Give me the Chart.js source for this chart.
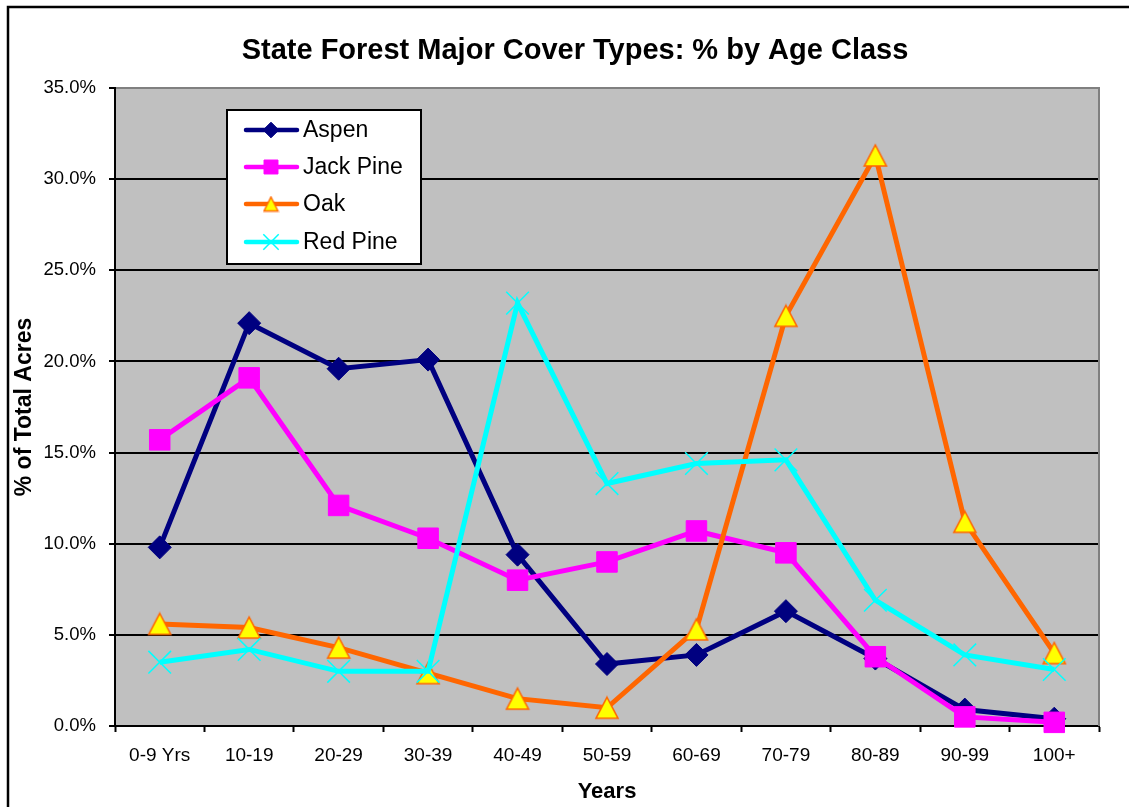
<!DOCTYPE html>
<html>
<head>
<meta charset="utf-8">
<title>State Forest Major Cover Types</title>
<script src="https://cdn.jsdelivr.net/npm/chart.js@4/dist/chart.umd.min.js"></script>
<style>
  html, body { margin: 0; padding: 0; background: #ffffff; }
  #wrap { position: relative; width: 1129px; height: 807px; }
</style>
</head>
<body>
<div id="wrap"><canvas id="chart" width="1129" height="807"></canvas></div>
<script>
// Age classes along the x axis
const ageClasses = ['0-9 Yrs', '10-19', '20-29', '30-39', '40-49', '50-59', '60-69', '70-79', '80-89', '90-99', '100+'];

// Percent of total acres in each age class, per cover type
const aspen    = [9.8, 22.1, 19.6, 20.1, 9.4, 3.4, 3.9, 6.3, 3.7, 0.9, 0.4];
const jackPine = [15.7, 19.1, 12.1, 10.3, 8.0, 9.0, 10.7, 9.5, 3.8, 0.5, 0.2];
const oak      = [5.6, 5.4, 4.3, 2.9, 1.5, 1.0, 5.3, 22.5, 31.3, 11.2, 4.0];
const redPine  = [3.5, 4.2, 3.0, 3.0, 23.2, 13.3, 14.4, 14.6, 6.9, 3.9, 3.1];

// Value axis range
const yMin = 0;
const yMax = 35;
const yStep = 5;

const FONT = "'Liberation Sans', Arial, Helvetica, sans-serif";

// Yellow triangle marker centred on its bounding box
function triangleMarker(w, h, fill, edge, edgeWidth) {
  const pad = edgeWidth;
  const c = document.createElement('canvas');
  c.width = Math.ceil(w + pad * 2);
  c.height = Math.ceil(h + pad * 2);
  const g = c.getContext('2d');
  const cx = c.width / 2, cy = c.height / 2;
  g.beginPath();
  g.moveTo(cx, cy - h / 2);
  g.lineTo(cx + w / 2, cy + h / 2);
  g.lineTo(cx - w / 2, cy + h / 2);
  g.closePath();
  g.fillStyle = fill;
  g.fill();
  g.lineJoin = 'miter';
  g.lineWidth = edgeWidth;
  g.strokeStyle = edge;
  g.stroke();
  return c;
}

const oakMarker = triangleMarker(22, 21, '#ffff00', '#ff6600', 1.6);
const oakLegendMarker = triangleMarker(14, 14, '#ffff00', '#ff6600', 1.4);

function series(label, data, line, fill, edge, style, radius, edgeWidth, order, legendStyle) {
  return {
    label, data, order,
    borderColor: line,
    borderWidth: 5,
    tension: 0,
    fill: false,
    clip: false,
    pointStyle: style,
    pointRadius: radius,
    pointHoverRadius: radius,
    pointBackgroundColor: fill,
    pointBorderColor: edge,
    pointBorderWidth: edgeWidth,
    legendStyle: legendStyle || style
  };
}

// Frame, plot background, title and the boxed legend
const decor = {
  id: 'decor',
  beforeDraw(chart) {
    const { ctx, chartArea: a } = chart;
    ctx.save();
    ctx.fillStyle = '#ffffff';
    ctx.fillRect(0, 0, chart.width, chart.height);
    ctx.strokeStyle = '#000000';
    ctx.lineWidth = 2.5;
    ctx.beginPath();
    ctx.moveTo(8, chart.height + 5);
    ctx.lineTo(8, 7);
    ctx.lineTo(chart.width + 5, 7);
    ctx.stroke();
    ctx.fillStyle = '#c0c0c0';
    ctx.fillRect(a.left, a.top, a.right - a.left, a.bottom - a.top);
    ctx.restore();
  },
  beforeDatasetsDraw(chart) {
    const { ctx, chartArea: a } = chart;
    ctx.save();
    ctx.strokeStyle = '#808080';
    ctx.lineWidth = 2;
    ctx.beginPath();
    ctx.moveTo(a.left + 1, a.top);
    ctx.lineTo(a.right, a.top);
    ctx.lineTo(a.right, a.bottom);
    ctx.stroke();
    ctx.restore();
  },
  afterDraw(chart) {
    const { ctx } = chart;
    ctx.save();
    // Chart title
    ctx.fillStyle = '#000000';
    ctx.font = 'bold 29px ' + FONT;
    ctx.textAlign = 'center';
    ctx.textBaseline = 'middle';
    ctx.fillText('State Forest Major Cover Types: % by Age Class', 575, 51);

    // Legend box
    const box = { x: 227, y: 110, w: 194, h: 154 };
    ctx.fillStyle = '#ffffff';
    ctx.fillRect(box.x, box.y, box.w, box.h);
    ctx.strokeStyle = '#000000';
    ctx.lineWidth = 2;
    ctx.strokeRect(box.x, box.y, box.w, box.h);

    const rows = [130, 167, 204, 242];
    chart.data.datasets.forEach((ds, i) => {
      const y = rows[i];
      ctx.strokeStyle = ds.borderColor;
      ctx.lineWidth = 4.5;
      ctx.lineCap = 'round';
      ctx.beginPath();
      ctx.moveTo(246, y);
      ctx.lineTo(297, y);
      ctx.stroke();
      ctx.lineCap = 'butt';
      ctx.fillStyle = ds.pointBackgroundColor;
      ctx.strokeStyle = ds.pointBorderColor;
      ctx.lineWidth = ds.pointBorderWidth;
      Chart.helpers.drawPoint(ctx, {
        pointStyle: ds.legendStyle,
        radius: ds.pointRadius * 0.68,
        rotation: 0,
        borderWidth: ds.pointBorderWidth
      }, 271, y);
      ctx.fillStyle = '#000000';
      ctx.font = '23px ' + FONT;
      ctx.textAlign = 'left';
      ctx.textBaseline = 'middle';
      ctx.fillText(ds.label, 303, y + 1);
    });
    ctx.restore();
  }
};

new Chart(document.getElementById('chart'), {
  type: 'line',
  data: {
    labels: ageClasses,
    datasets: [
      series('Aspen', aspen, '#000080', '#000080', '#000080', 'rectRot', 11.5, 1, 4),
      series('Jack Pine', jackPine, '#ff00ff', '#ff00ff', '#ff00ff', 'rect', 14.5, 1, 3),
      series('Oak', oak, '#ff6600', '#ffff00', '#ff6600', oakMarker, 13.5, 1.5, 2, oakLegendMarker),
      series('Red Pine', redPine, '#00ffff', '#00ffff', '#00ffff', 'crossRot', 16, 1.5, 1)
    ]
  },
  options: {
    responsive: false,
    devicePixelRatio: 1,
    animation: false,
    events: [],
    layout: { padding: { top: 88, right: 30, left: 0, bottom: 0 } },
    plugins: {
      legend: { display: false },
      title: { display: false },
      tooltip: { enabled: false }
    },
    scales: {
      x: {
        type: 'category',
        offset: true,
        afterFit(scale) { scale.height = 81; },
        grid: {
          offset: true,
          drawOnChartArea: false,
          drawTicks: true,
          tickLength: 6,
          tickWidth: 2,
          tickColor: '#000000'
        },
        border: { display: true, color: '#000000', width: 2 },
        ticks: {
          color: '#000000',
          font: { family: FONT, size: 19 },
          padding: 12,
          maxRotation: 0,
          autoSkip: false
        },
        title: {
          display: true,
          text: 'Years',
          color: '#000000',
          font: { family: FONT, size: 22, weight: 'bold' },
          padding: { top: 0, bottom: 2 }
        }
      },
      y: {
        min: yMin,
        max: yMax,
        afterFit(scale) { scale.width = 115; },
        grid: {
          color: '#000000',
          lineWidth: 2,
          drawTicks: true,
          tickLength: 6,
          tickWidth: 2,
          tickColor: '#000000'
        },
        border: { display: true, color: '#000000', width: 2 },
        ticks: {
          stepSize: yStep,
          color: '#000000',
          font: { family: FONT, size: 18.5 },
          padding: 13,
          callback: (v) => Number(v).toFixed(1) + '%'
        },
        title: {
          display: true,
          text: '% of Total Acres',
          color: '#000000',
          font: { family: FONT, size: 23, weight: 'bold' },
          padding: { top: 11, bottom: 0 }
        }
      }
    }
  },
  plugins: [decor]
});
</script>
</body>
</html>
